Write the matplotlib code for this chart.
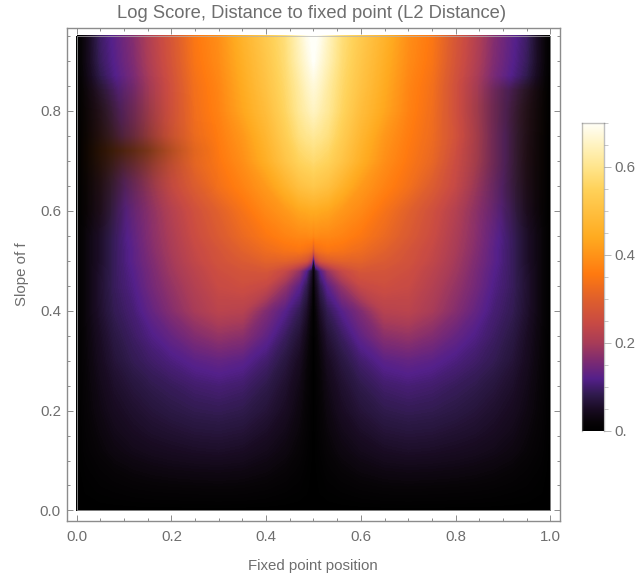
import numpy as np
import matplotlib
matplotlib.use("Agg")
import matplotlib.pyplot as plt
from matplotlib.colors import LinearSegmentedColormap
from matplotlib.patches import Rectangle
from matplotlib.ticker import MultipleLocator, FixedLocator

plt.rcParams["font.family"] = ["Liberation Sans", "DejaVu Sans"]

GREY = "#6e6e6e"
FRAME = "#8c8c8c"

# left half of the picture, the right half mirrors it
x_half = [0, .02, .05, .08, .12, .16, .2, .25, .3, .35, .4, .44, .47, .485, .495, .5]
y_nodes = [0, .04, .08, .12, .16, .2, .25, .3, .35, .4, .45, .48, .5, .52, .55, .6, .65, .7, .75, .8, .85, .9, .95]
score_half = [
    [0, 0, 0, 0, 0, 0, 0, 0, 0, 0, 0, 0, 0, 0, 0, 0],
    [0, .003, .006, .008, .011, .013, .014, .015, .016, .015, .012, .008, .005, .003, .001, 0],
    [0, .006, .012, .018, .024, .028, .031, .033, .034, .032, .026, .018, .010, .005, .002, 0],
    [0, .010, .020, .030, .038, .044, .048, .052, .054, .050, .040, .029, .017, .008, .003, 0],
    [0, .013, .026, .038, .049, .057, .062, .068, .070, .066, .053, .038, .023, .012, .004, 0],
    [0, .016, .032, .046, .058, .068, .076, .083, .086, .081, .066, .048, .028, .014, .005, 0],
    [0, .018, .038, .055, .070, .082, .090, .100, .105, .099, .080, .058, .035, .018, .006, 0],
    [0, .020, .045, .066, .085, .098, .110, .125, .133, .125, .100, .072, .046, .023, .008, 0],
    [0, .022, .050, .075, .095, .115, .135, .162, .180, .170, .130, .092, .063, .034, .012, 0],
    [0, .025, .058, .085, .105, .135, .165, .200, .225, .220, .160, .120, .085, .055, .020, 0],
    [0, .025, .060, .090, .115, .150, .180, .215, .245, .255, .240, .180, .125, .085, .040, .002],
    [0, .025, .058, .090, .120, .155, .190, .225, .255, .270, .275, .240, .180, .120, .060, .010],
    [0, .025, .055, .090, .125, .160, .195, .235, .265, .285, .305, .305, .290, .270, .220, .060],
    [0, .025, .055, .090, .125, .165, .200, .240, .270, .300, .325, .340, .345, .335, .325, .270],
    [0, .025, .055, .090, .130, .170, .205, .250, .285, .320, .350, .370, .380, .380, .385, .375],
    [0, .020, .050, .090, .135, .175, .215, .260, .300, .340, .380, .405, .430, .435, .440, .440],
    [0, .020, .050, .090, .140, .190, .240, .290, .335, .370, .410, .460, .500, .510, .515, .520],
    [0, .020, .050, .095, .150, .205, .250, .315, .350, .390, .450, .510, .550, .560, .565, .570],
    [0, .020, .055, .095, .150, .210, .265, .325, .360, .405, .470, .535, .585, .600, .605, .610],
    [0, .025, .060, .100, .150, .205, .260, .330, .370, .430, .490, .555, .610, .630, .645, .650],
    [0, .030, .075, .110, .150, .205, .260, .335, .375, .440, .505, .565, .620, .650, .665, .670],
    [0, .035, .090, .120, .160, .215, .270, .345, .385, .450, .515, .575, .640, .670, .690, .700],
    [0, .035, .095, .125, .165, .220, .275, .350, .390, .460, .525, .580, .650, .685, .700, .700],
]

# brown smear over the colour scale, strongest around slope 0.72
tint_y = [.54, .57, .60, .63, .66, .69, .72, .75, .78, .81, .84, .87]
tint_x_left = [0, .05, .1, .15, .2, .25, .3]
tint_shade_left = [0, .20, .38, .55, .80, 1, 1]
tint_alpha_left = [
    [0, 0, 0, 0, 0, 0, 0],
    [.15, .15, .08, 0, 0, 0, 0],
    [.3, .3, .15, .05, 0, 0, 0],
    [.4, .4, .3, .15, .05, 0, 0],
    [.55, .55, .45, .3, .15, .05, 0],
    [.8, .8, .7, .55, .35, .12, 0],
    [1, 1, .95, .85, .65, .3, 0],
    [.7, .7, .6, .45, .25, .08, 0],
    [.6, .55, .45, .3, .12, 0, 0],
    [.5, .45, .35, .2, .05, 0, 0],
    [.4, .3, .2, .08, 0, 0, 0],
    [0, 0, 0, 0, 0, 0, 0],
]
tint_x_right = [.8, .85, .9, .95, 1]
tint_shade_right = [.8, .6, .35, .18, 0]
tint_alpha_right = [
    [0, 0, 0, 0, 0],
    [0, 0, .1, .1, .1],
    [0, .05, .2, .2, .2],
    [0, .1, .3, .3, .3],
    [0, .15, .35, .4, .4],
    [0, .2, .4, .45, .45],
    [0, .2, .4, .5, .5],
    [0, .2, .4, .5, .5],
    [0, .2, .45, .55, .55],
    [0, .2, .45, .55, .55],
    [0, .1, .4, .5, .5],
    [0, 0, 0, 0, 0],
]

cbar_ticks = [0, .2, .4, .6]
cbar_labels = ["0.", "0.2", "0.4", "0.6"]
cmap_values = [0, .02, .05, .08, .118, .155, .20, .245, .30, .357, .44, .50, .55, .60, .65, .70]
cmap_colors = ["#000000", "#080408", "#1a0c24", "#2e1a4a", "#54208a", "#7a2a74", "#a83c58", "#c84a44",
               "#e0602c", "#ff7a10", "#ffab20", "#ffc040", "#ffd25a", "#ffe58c", "#fff3c0", "#fffff8"]


def add_tint(ax, xs, shades, alphas, cmap, clip):
    dx = xs[1] - xs[0]
    dy = tint_y[1] - tint_y[0]
    img = ax.imshow(np.tile(shades, (len(tint_y), 1)), origin="lower", aspect="auto", cmap=cmap,
                    vmin=0, vmax=1, alpha=np.array(alphas), interpolation="bilinear", zorder=2,
                    extent=[xs[0] - dx / 2, xs[-1] + dx / 2, tint_y[0] - dy / 2, tint_y[-1] + dy / 2])
    img.set_clip_path(clip)


def main():
    x = np.array(x_half + [1 - v for v in x_half[-2::-1]])
    half = np.array(score_half)
    z = np.hstack([half, half[:, -2::-1]])

    cmap = LinearSegmentedColormap.from_list(
        "sunset", [(v / .7, c) for v, c in zip(cmap_values, cmap_colors)], N=512)
    brown = LinearSegmentedColormap.from_list("brown", ["#000000", "#d06018"])

    fig = plt.figure(figsize=(6.35, 5.78), dpi=100)
    ax = fig.add_axes([66.5 / 635, 1 - 520.7 / 578, 493.5 / 635, 493.2 / 578])
    ax.contourf(x, y_nodes, z, levels=np.linspace(0, .7, 281), cmap=cmap,
                vmin=0, vmax=.7, antialiased=False)
    edge = Rectangle((0, 0), 1, .95, fill=False, ec="#b4b4b4", lw=.5, zorder=3)
    ax.add_patch(edge)
    add_tint(ax, tint_x_left, tint_shade_left, tint_alpha_left, brown, edge)
    add_tint(ax, tint_x_right, tint_shade_right, tint_alpha_right, brown, edge)

    ax.set_xlim(-.0217, 1.0207)
    ax.set_ylim(-.0205, .967)
    ax.xaxis.set_major_locator(MultipleLocator(.2))
    ax.xaxis.set_minor_locator(MultipleLocator(.05))
    ax.yaxis.set_major_locator(MultipleLocator(.2))
    ax.yaxis.set_minor_locator(MultipleLocator(.05))
    ax.tick_params(which="major", direction="in", length=4.3, width=.7, color=FRAME,
                   top=True, right=True, labelcolor=GREY, labelsize=10.8, pad=4)
    ax.tick_params(which="minor", direction="in", length=2.2, width=.7, color=FRAME,
                   top=True, right=True)
    ax.tick_params(axis="x", which="major", pad=7)
    for s in ax.spines.values():
        s.set_color(FRAME)
        s.set_linewidth(1)
    ax.set_title("Log Score, Distance to fixed point (L2 Distance)", fontsize=13.2,
                 color=GREY, pad=7, x=.497)
    ax.set_xlabel("Fixed point position", fontsize=10.8, color=GREY)
    ax.xaxis.set_label_coords(.5, -.078)
    ax.set_ylabel("Slope of f", fontsize=10.8, color=GREY)
    ax.yaxis.set_label_coords(-.076, .5)

    cax = fig.add_axes([582.3 / 635, 1 - 430.7 / 578, 21.4 / 635, 308 / 578])
    bar = np.linspace(0, .7, 512).reshape(-1, 1)
    cax.imshow(bar, origin="lower", aspect="auto", cmap=cmap, vmin=0, vmax=.7,
               extent=[0, 1, 0, .7])
    cax.set_xticks([])
    cax.yaxis.tick_right()
    cax.yaxis.set_major_locator(FixedLocator(cbar_ticks))
    cax.set_yticklabels(cbar_labels)
    cax.yaxis.set_minor_locator(MultipleLocator(.05))
    cax.tick_params(which="major", direction="out", length=4.7, width=.7, color="#b8b8b8",
                    labelcolor=GREY, labelsize=10.8, pad=3)
    cax.tick_params(which="minor", direction="out", length=2.9, width=.7, color="#c8c8c8")
    for s in cax.spines.values():
        s.set_color("#80808080")
        s.set_linewidth(1)
    cax.spines["bottom"].set_visible(False)

    fig.savefig("out.png", dpi=100)


if __name__ == "__main__":
    main()
